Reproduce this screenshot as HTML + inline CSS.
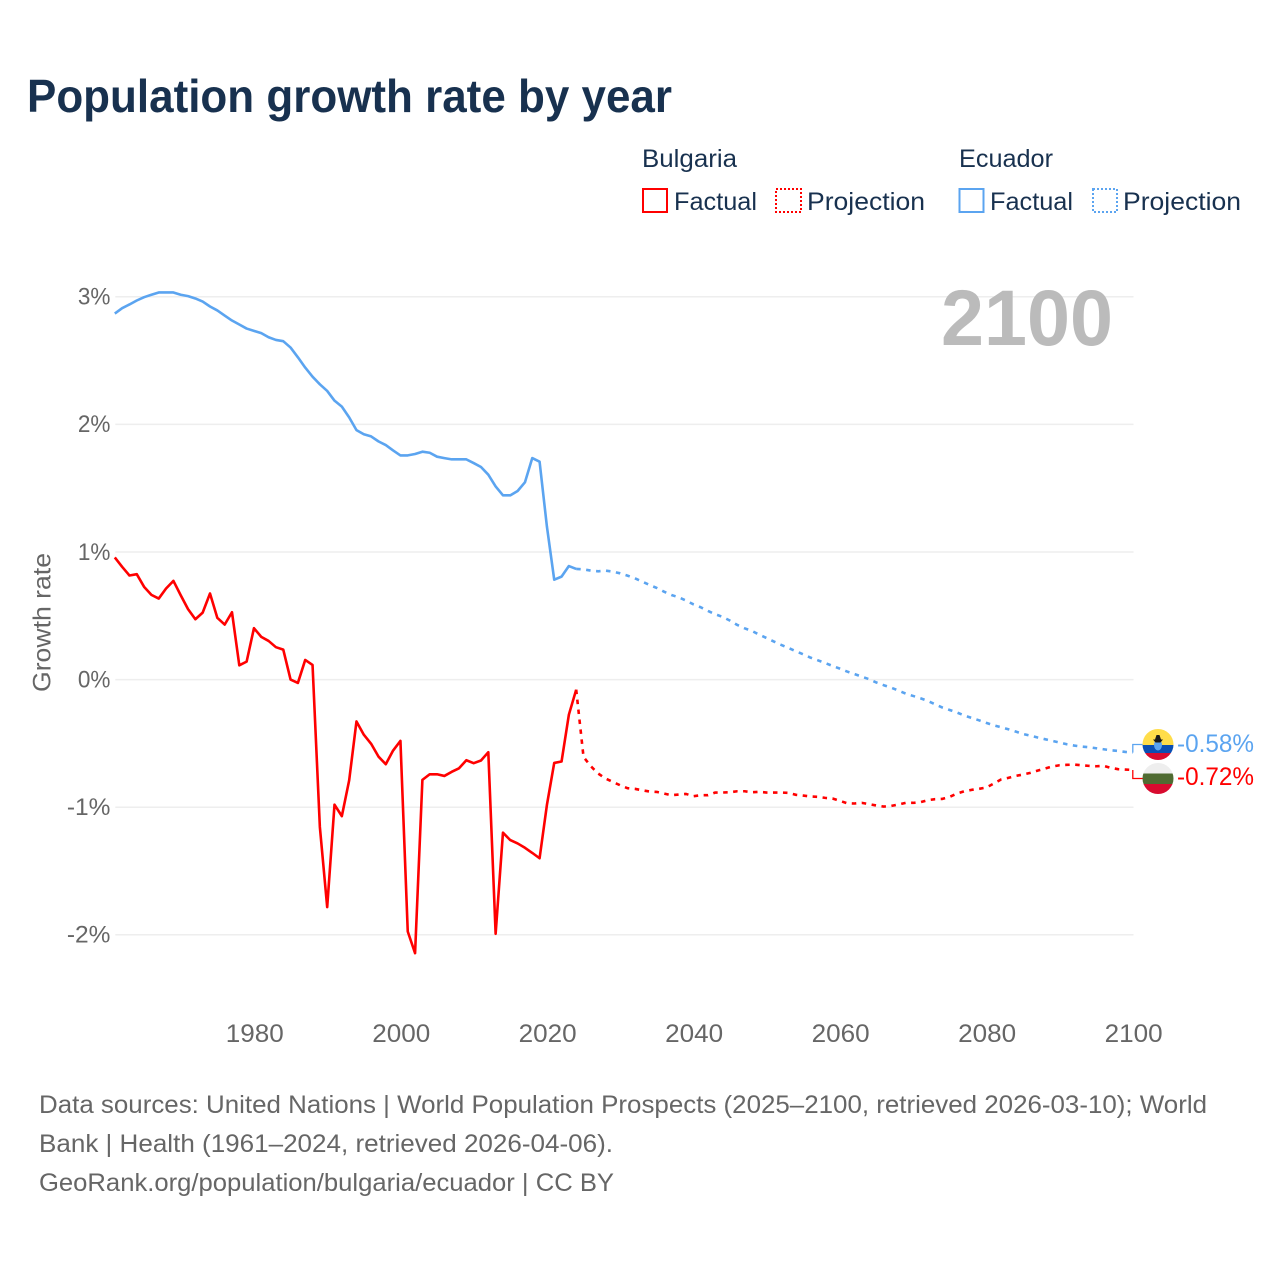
<!DOCTYPE html>
<html lang="en">
<head>
<meta charset="utf-8">
<title>Population growth rate by year</title>
<style>
html,body{margin:0;padding:0;background:#fff;width:1280px;height:1280px;overflow:hidden}
svg{display:block}
text{font-family:"Liberation Sans",sans-serif}
.legend{font-size:25px;fill:#18314f}
.foot{font-size:25px;fill:#666}
.tick{font-size:25px;fill:#666}
</style>
</head>
<body>
<svg id="chart" xmlns="http://www.w3.org/2000/svg" width="1280" height="1280" viewBox="0 0 1280 1280">
  <rect x="0" y="0" width="1280" height="1280" fill="#fff"/>
  <text x="27" y="112" font-size="46" font-weight="700" fill="#18314f" textLength="645" lengthAdjust="spacingAndGlyphs">Population growth rate by year</text>

  <g>
    <text class="legend" x="642" y="167" textLength="95" lengthAdjust="spacingAndGlyphs">Bulgaria</text>
    <rect x="643" y="189" width="24" height="23" fill="none" stroke="#ff0000" stroke-width="2"/>
    <text class="legend" x="674" y="210" textLength="83" lengthAdjust="spacingAndGlyphs">Factual</text>
    <rect x="776" y="189" width="25" height="23" fill="none" stroke="#ff0000" stroke-width="2" stroke-dasharray="2 2"/>
    <text class="legend" x="807" y="210" textLength="118" lengthAdjust="spacingAndGlyphs">Projection</text>
    <text class="legend" x="959" y="167" textLength="94" lengthAdjust="spacingAndGlyphs">Ecuador</text>
    <rect x="959.5" y="189" width="24" height="23" fill="none" stroke="#5ba4f0" stroke-width="2"/>
    <text class="legend" x="990" y="210" textLength="83" lengthAdjust="spacingAndGlyphs">Factual</text>
    <rect x="1093" y="189" width="24" height="23" fill="none" stroke="#5ba4f0" stroke-width="2" stroke-dasharray="2 2"/>
    <text class="legend" x="1123" y="210" textLength="118" lengthAdjust="spacingAndGlyphs">Projection</text>
  </g>

  <g id="grid"></g>
  <g id="yticks"></g>
  <g id="xticks"></g>

  <text transform="translate(50.5,692) rotate(-90)" x="0" y="0" font-size="25" fill="#666" textLength="139" lengthAdjust="spacingAndGlyphs">Growth rate</text>

  <text x="1113" y="345" text-anchor="end" font-size="79" font-weight="700" fill="#bbbbbb" textLength="172" lengthAdjust="spacingAndGlyphs">2100</text>

  <g id="series"></g>

  <defs>
    <clipPath id="flag-clip-ec"><circle cx="1158" cy="744.5" r="15.5"/></clipPath>
    <clipPath id="flag-clip-bg"><circle cx="1158" cy="778.5" r="15.5"/></clipPath>
  </defs>
  <g clip-path="url(#flag-clip-ec)">
    <rect x="1142" y="728" width="32" height="17" fill="#ffdd4a"/>
    <rect x="1142" y="745" width="32" height="8" fill="#0a4fb3"/>
    <rect x="1142" y="753" width="32" height="9" fill="#d80b2f"/>
    <ellipse cx="1158" cy="745" rx="4" ry="5.5" fill="#5ba4f0"/>
    <path d="M1153 739.5h10l-2.5 3h-5zM1156.5 735h3l1.5 4.5h-6z" fill="#1a1a1a"/>
  </g>
  <g clip-path="url(#flag-clip-bg)">
    <rect x="1142" y="762" width="32" height="12" fill="#eeeeee"/>
    <rect x="1142" y="773.5" width="32" height="11" fill="#4f6b32"/>
    <rect x="1142" y="784" width="32" height="11" fill="#d80b2f"/>
  </g>

  <g>
    <text class="foot" x="39" y="1113" textLength="1168" lengthAdjust="spacingAndGlyphs">Data sources: United Nations | World Population Prospects (2025–2100, retrieved 2026-03-10); World</text>
    <text class="foot" x="39" y="1152" textLength="574" lengthAdjust="spacingAndGlyphs">Bank | Health (1961–2024, retrieved 2026-04-06).</text>
    <text class="foot" x="39" y="1191" textLength="575" lengthAdjust="spacingAndGlyphs">GeoRank.org/population/bulgaria/ecuador | CC BY</text>
  </g>
</svg>
<script>
const firstYear = 1961;
const lastFactualYear = 2024;
const lastYear = 2100;
const yTickValues = [3, 2, 1, 0, -1, -2];
const yTickLabels = ['3%', '2%', '1%', '0%', '-1%', '-2%'];
const xTickLabels = ['1980', '2000', '2020', '2040', '2060', '2080', '2100'];
const endLabels = ['-0.72%', '-0.58%'];

const bulgariaFactual = [
  0.957,0.884,0.816,0.826,0.727,0.664,0.635,0.714,0.774,0.661,
  0.552,0.473,0.525,0.675,0.484,0.431,0.528,0.112,0.141,0.403,
  0.335,0.303,0.254,0.235,0.000,-0.026,0.154,0.115,-1.155,-1.783,
  -0.980,-1.070,-0.790,-0.328,-0.432,-0.503,-0.603,-0.663,-0.556,-0.480,
  -1.974,-2.144,-0.786,-0.742,-0.742,-0.755,-0.723,-0.695,-0.632,-0.655,
  -0.634,-0.569,-1.992,-1.200,-1.258,-1.284,-1.318,-1.358,-1.400,-0.983,
  -0.653,-0.642,-0.275,-0.079
];
const bulgariaProjection = [
  -0.606,-0.679,-0.736,-0.775,-0.802,-0.828,-0.851,-0.856,-0.867,-0.877,
  -0.880,-0.893,-0.906,-0.901,-0.896,-0.914,-0.906,-0.906,-0.885,-0.885,
  -0.883,-0.875,-0.875,-0.883,-0.880,-0.885,-0.885,-0.885,-0.888,-0.903,
  -0.909,-0.916,-0.919,-0.927,-0.932,-0.950,-0.969,-0.971,-0.966,-0.976,
  -0.987,-0.995,-0.990,-0.979,-0.966,-0.966,-0.961,-0.945,-0.937,-0.935,
  -0.919,-0.893,-0.875,-0.864,-0.856,-0.846,-0.815,-0.783,-0.770,-0.755,
  -0.744,-0.731,-0.713,-0.697,-0.681,-0.671,-0.668,-0.666,-0.671,-0.676,
  -0.679,-0.676,-0.692,-0.702,-0.705,-0.708
];
const ecuadorFactual = [
  2.869,2.911,2.940,2.971,2.997,3.016,3.034,3.034,3.034,3.016,
  3.005,2.987,2.963,2.924,2.893,2.853,2.814,2.783,2.751,2.733,
  2.715,2.683,2.662,2.652,2.602,2.526,2.445,2.374,2.314,2.262,
  2.186,2.139,2.055,1.955,1.923,1.906,1.867,1.838,1.796,1.757,
  1.757,1.768,1.786,1.778,1.747,1.736,1.726,1.726,1.726,1.697,
  1.666,1.606,1.514,1.444,1.444,1.478,1.546,1.736,1.708,1.200,
  0.783,0.807,0.890,0.867
];
const ecuadorProjection = [
  0.864,0.854,0.849,0.854,0.846,0.833,0.815,0.794,0.768,0.742,
  0.718,0.689,0.663,0.645,0.619,0.590,0.567,0.538,0.512,0.491,
  0.462,0.428,0.402,0.381,0.352,0.326,0.298,0.272,0.248,0.222,
  0.198,0.172,0.151,0.130,0.107,0.086,0.063,0.043,0.023,0.003,
  -0.023,-0.044,-0.063,-0.086,-0.110,-0.128,-0.146,-0.167,-0.193,-0.219,
  -0.238,-0.258,-0.282,-0.300,-0.319,-0.339,-0.358,-0.373,-0.389,-0.407,
  -0.426,-0.439,-0.454,-0.467,-0.480,-0.493,-0.507,-0.517,-0.525,-0.530,
  -0.538,-0.546,-0.554,-0.559,-0.567,-0.572
];

const NS = 'http://www.w3.org/2000/svg';
const plotLeft = 114.8, plotRight = 1132.8, gridLeft = 115.3, gridRight = 1133.5, yZero = 679.6, pxPerPercent = 127.6;
const xScale = function (year) {
  return plotLeft + (year - firstYear) * (plotRight - plotLeft) / (lastYear - firstYear);
};
const yScale = function (value) {
  return yZero - value * pxPerPercent;
};
const make = function (tag, parent) {
  const el = document.createElementNS(NS, tag);
  document.getElementById(parent).appendChild(el);
  return el;
};
const pathFrom = function (values, startYear, prefix) {
  return prefix + values.map(function (v, i) {
    return (i === 0 && !prefix ? 'M' : 'L') + xScale(startYear + i).toFixed(2) + ' ' + yScale(v).toFixed(2);
  }).join('');
};

yTickValues.forEach(function (v, i) {
  const line = make('line', 'grid');
  
  
  line.setAttribute('x1', gridLeft);
  line.setAttribute('x2', gridRight);
  line.setAttribute('y1', yScale(v));
  line.setAttribute('y2', yScale(v));
  line.setAttribute('stroke', '#eeeeee');
  line.setAttribute('stroke-width', '1.5');

  const t = make('text', 'yticks');
  
  
  t.setAttribute('class', 'tick');
  t.setAttribute('x', 110.5);
  t.setAttribute('y', yScale(v) + 7.8);
  t.setAttribute('text-anchor', 'end');
  t.style.fontSize = '24.5px';
  t.textContent = yTickLabels[i];
  t.setAttribute('textLength', (t.getComputedTextLength() * (v < 0 ? 1.0 : 0.92)).toFixed(1));
  t.setAttribute('lengthAdjust', 'spacingAndGlyphs');
});

xTickLabels.forEach(function (label) {
  const t = make('text', 'xticks');
  
  
  t.setAttribute('class', 'tick');
  t.setAttribute('x', xScale(Number(label)) + 0.8);
  t.setAttribute('y', 1042);
  t.setAttribute('text-anchor', 'middle');
  t.setAttribute('textLength', '58');
  t.setAttribute('lengthAdjust', 'spacingAndGlyphs');
  t.textContent = label;
});

const redColor = '#ff0000', blueColor = '#5ba4f0';

const drawSeries = function (el, values, startYear, color, prefix, dashed) {
  el.setAttribute('d', pathFrom(values, startYear, prefix));
  el.setAttribute('fill', 'none');
  el.setAttribute('stroke', color);
  el.setAttribute('stroke-width', '2.6');
  el.setAttribute('stroke-linejoin', 'round');
  if (dashed) el.setAttribute('stroke-dasharray', '4.5 5.5');
};
const joinPoint = function (values) {
  const last = values[values.length - 1];
  return 'M' + xScale(lastFactualYear).toFixed(2) + ' ' + yScale(last).toFixed(2);
};

const ecFactual = make('path', 'series');


drawSeries(ecFactual, ecuadorFactual, firstYear, blueColor, '', false);

const ecProjection = make('path', 'series');


drawSeries(ecProjection, ecuadorProjection, lastFactualYear + 1, blueColor, joinPoint(ecuadorFactual), true);

const bgFactual = make('path', 'series');


drawSeries(bgFactual, bulgariaFactual, firstYear, redColor, '', false);

const bgProjection = make('path', 'series');


drawSeries(bgProjection, bulgariaProjection, lastFactualYear + 1, redColor, joinPoint(bulgariaFactual), true);

const ecConnector = make('path', 'series');


ecConnector.setAttribute('d', 'M' + plotRight + ' ' + yScale(ecuadorProjection[ecuadorProjection.length - 1]).toFixed(2) + 'V744.5H1143');
ecConnector.setAttribute('fill', 'none');
ecConnector.setAttribute('stroke', blueColor);
ecConnector.setAttribute('stroke-width', '1.3');

const bgConnector = make('path', 'series');


bgConnector.setAttribute('d', 'M' + plotRight + ' ' + yScale(bulgariaProjection[bulgariaProjection.length - 1]).toFixed(2) + 'V778.5H1143');
bgConnector.setAttribute('fill', 'none');
bgConnector.setAttribute('stroke', redColor);
bgConnector.setAttribute('stroke-width', '1.3');

const ecLabel = make('text', 'series');


ecLabel.setAttribute('x', 1177);
ecLabel.setAttribute('y', 752);
ecLabel.setAttribute('font-size', '25');
ecLabel.setAttribute('fill', blueColor);
ecLabel.setAttribute('textLength', '77');
ecLabel.setAttribute('lengthAdjust', 'spacingAndGlyphs');
ecLabel.textContent = endLabels[1];

const bgLabel = make('text', 'series');


bgLabel.setAttribute('x', 1177);
bgLabel.setAttribute('y', 785);
bgLabel.setAttribute('font-size', '25');
bgLabel.setAttribute('fill', redColor);
bgLabel.setAttribute('textLength', '77');
bgLabel.setAttribute('lengthAdjust', 'spacingAndGlyphs');
bgLabel.textContent = endLabels[0];
</script>
</body>
</html>
